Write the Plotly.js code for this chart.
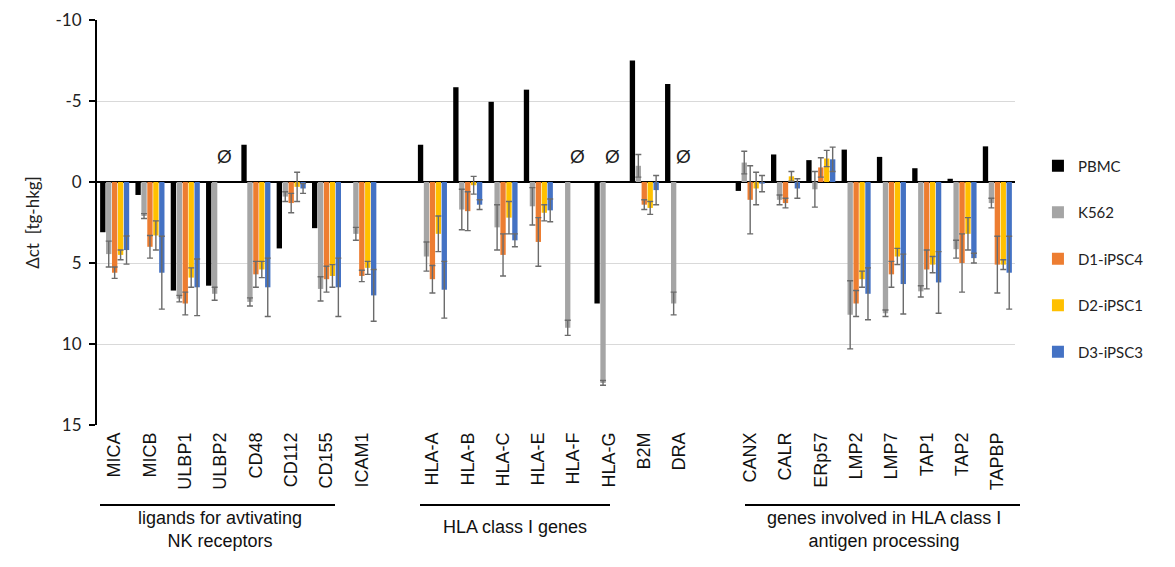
<!DOCTYPE html>
<html>
<head>
<meta charset="utf-8">
<script src="https://cdn.plot.ly/plotly-3.0.1.min.js"></script>
<style>html,body{margin:0;padding:0;background:#fff;}#chart{width:1175px;height:567px;}</style>
</head>
<body>
<div id="chart"></div>
<script>
// Category order with two blank spacer slots between gene groups
const categoryOrder = ["MICA","MICB","ULBP1","ULBP2","CD48","CD112","CD155","ICAM1"," ",
  "HLA-A","HLA-B","HLA-C","HLA-E","HLA-F","HLA-G","B2M","DRA","  ",
  "CANX","CALR","ERp57","LMP2","LMP7","TAP1","TAP2","TAPBP"];
const genes = ["MICA","MICB","ULBP1","ULBP2","CD48","CD112","CD155","ICAM1",
  "HLA-A","HLA-B","HLA-C","HLA-E","HLA-F","HLA-G","B2M","DRA",
  "CANX","CALR","ERp57","LMP2","LMP7","TAP1","TAP2","TAPBP"];

const seriesNames = ["PBMC","K562","D1-iPSC4","D2-iPSC1","D3-iPSC3"];
const seriesColors = ["#000000","#a5a5a5","#ed7d31","#ffc000","#4472c4"];

const pbmc     = [3.1, 0.8, 6.7, 6.4, -2.3, 4.1, 2.85, null, -2.3, -5.85, -4.95, -5.7, null, 7.5, -7.5, -6.05, 0.55, -1.7, -1.35, -2.0, -1.55, -0.85, -0.2, -2.2];
const k562     = [4.45, 2.1, 7.2, 6.9, 7.4, 0.9, 6.6, 3.2, 4.6, 1.7, 2.8, 1.5, 9.0, 12.4, -1.0, 7.5, -1.2, 1.1, 0.45, 8.2, 8.1, 6.75, 4.15, 1.3];
const k562Err  = [0.8, 0.15, 0.2, 0.4, 0.25, 0.3, 0.75, 0.4, 0.9, 1.25, 1.4, 1.15, 0.47, 0.15, 0.7, 0.7, 0.7, 0.3, 1.1, 2.1, 0.2, 0.35, 0.55, 0.3];
const d1       = [5.6, 4.0, 7.5, null, 5.7, 1.3, 6.0, 5.8, 6.0, 1.8, 4.5, 3.7, null, null, 1.4, null, 1.1, 1.3, -0.9, 7.5, 5.7, 5.4, 5.0, 5.1];
const d1Err    = [0.35, 0.7, 0.7, null, 0.8, 0.6, 0.8, 0.35, 0.85, 1.2, 1.3, 1.5, null, null, 0.3, null, 2.1, 0.3, 0.6, 0.8, 0.8, 1.2, 1.8, 1.75];
const d2       = [4.5, 3.3, 5.9, null, 5.4, 0.3, 5.8, 5.3, 3.2, 0.2, 2.2, 1.9, null, null, 1.6, null, 0.4, -0.35, -1.45, 6.0, 4.6, 5.1, 3.2, 5.1];
const d2Err    = [0.3, 0.9, 0.6, null, 0.5, 0.9, 0.7, 0.4, 1.1, 0.55, 1.0, 0.5, null, null, 0.4, null, 1.0, 0.3, 0.5, 0.5, 0.5, 0.5, 1.0, 0.3];
const d3       = [4.2, 5.6, 6.5, null, 6.5, 0.4, 6.5, 7.0, 6.65, 1.4, 3.6, 1.75, null, null, 0.5, null, 0.1, 0.4, -1.4, 6.9, 6.3, 6.2, 4.7, 5.6];
const d3Err    = [0.87, 2.25, 1.75, null, 1.8, 0.3, 1.8, 1.6, 1.75, 0.3, 0.4, 0.7, null, null, 0.9, null, 0.5, 0.6, 0.75, 1.6, 1.85, 1.9, 0.3, 2.25];

const seriesValues = [pbmc, k562, d1, d2, d3];
const seriesErrors = [null, k562Err, d1Err, d2Err, d3Err];

// Genes marked "Ø" (not detected in iPSC lines)
const notDetected = ["ULBP2","HLA-F","HLA-G","DRA"];

// Group labels
const groupLabels = ["ligands for avtivating<br>NK receptors", "HLA class I genes", "genes involved in HLA class I<br>antigen processing"];

// Y tick labels (hyphen minus as in the original)
const yTickVals = [-10, -5, 0, 5, 10, 15];
const yTickText = ["-10", "-5", "0", "5", "10", "15"];

const traces = seriesNames.map((name, i) => {
  const t = {
    type: "bar",
    name: name,
    x: genes,
    y: seriesValues[i],
    marker: {color: seriesColors[i], line: {width: 0}},
    legendgroup: "g" + i,
    showlegend: true
  };
  if (seriesErrors[i]) {
    t.error_y = {type: "data", array: seriesErrors[i], visible: true, color: "#6b6b6b", thickness: 1.4, width: 3};
  }
  return t;
});

// plot area in pixels: left 97, right 1015, top 20, bottom 425
const L = 97, R = 1015, T = 20, B = 425;
const px = v => (v - L) / (R - L);
const py = v => 1 - (v - T) / (B - T);

const annotations = notDetected.map(g => ({
  x: g, y: -1.6, xref: "x", yref: "y", text: "Ø", showarrow: false,
  font: {family: "Liberation Sans, Arial", size: 19, color: "#222"}, xshift: 4
}));
const groupPos = [[220, 529], [515, 527], [884, 529]];
groupLabels.forEach((txt, i) => {
  annotations.push({
    x: px(groupPos[i][0]), y: py(groupPos[i][1]), xref: "paper", yref: "paper",
    xanchor: "center", yanchor: "middle",
    text: txt, showarrow: false, align: "center",
    font: {family: "Liberation Sans, Arial", size: 18, color: "#111"}
  });
});
const lines = [[100, 335], [420, 610], [745, 1020]];
const shapes = lines.map(([a, b]) => ({
  type: "line", xref: "paper", yref: "paper",
  x0: px(a), x1: px(b), y0: py(505), y1: py(505),
  line: {color: "#000", width: 2}
}));

const layout = {
  width: 1175, height: 567,
  margin: {l: L, r: 1175 - R, t: T, b: 567 - B, pad: 0},
  paper_bgcolor: "#fff", plot_bgcolor: "#fff",
  barmode: "group", bargap: 0.16, bargroupgap: 0.1,
  font: {family: "Lato, Liberation Sans, Arial", color: "#404040"},
  xaxis: {
    type: "category", categoryorder: "array", categoryarray: categoryOrder,
    range: [-0.5, 25.5], showgrid: false, showline: false, zeroline: false,
    ticks: "", tickangle: -90, ticklabelstandoff: 3,
    tickfont: {family: "Liberation Sans, Arial", size: 18, color: "#111"}
  },
  yaxis: {
    range: [15, -10], autorange: false,
    tickmode: "array", tickvals: yTickVals, ticktext: yTickText,
    showgrid: true, gridcolor: "#d9d9d9", gridwidth: 1,
    zeroline: true, zerolinecolor: "#000", zerolinewidth: 2,
    showline: true, linecolor: "#000", linewidth: 2,
    ticks: "outside", ticklen: 6, tickcolor: "#000", tickwidth: 1.5,
    ticklabelstandoff: 4,
    tickfont: {family: "Lato, Liberation Sans", size: 17, color: "#222"},
    title: {text: "Δct  [tg-hkg]", font: {family: "Lato, Liberation Sans", size: 17, color: "#222"}, standoff: 12}
  },
  legend: {
    x: 1.025, xanchor: "left", y: 0.41, yanchor: "middle",
    font: {family: "Lato, Liberation Sans", size: 15, color: "#222"},
    tracegroupgap: 24, itemwidth: 30, bgcolor: "rgba(0,0,0,0)"
  },
  annotations: annotations,
  shapes: shapes,
  showlegend: true
};

Plotly.newPlot("chart", traces, layout, {displayModeBar: false, staticPlot: true});
</script>
</body>
</html>
